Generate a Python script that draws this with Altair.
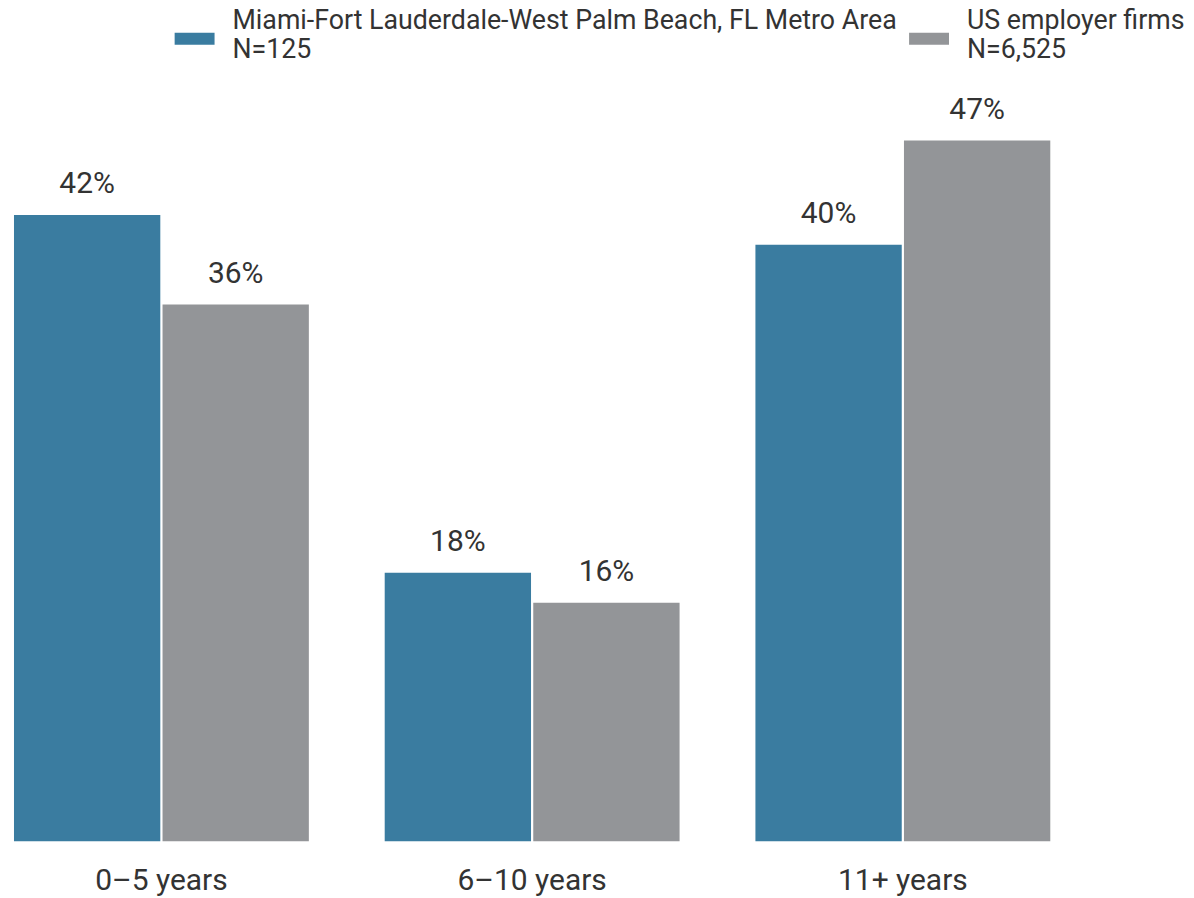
import altair as alt
import pandas as pd

categories = ["0–5 years", "6–10 years", "11+ years"]
series = ["Miami-Fort Lauderdale-West Palm Beach, FL Metro Area\nN=125", "US employer firms\nN=6,525"]
miami_values = [42, 18, 40]
us_values = [36, 16, 47]
colors = ["#3a7ca0", "#939598"]

rows = []
for c, m, u in zip(categories, miami_values, us_values):
    rows.append({"cat": c, "series": series[0], "value": m, "label": f"{m}%"})
    rows.append({"cat": c, "series": series[1], "value": u, "label": f"{u}%"})
df = pd.DataFrame(rows)

FONT = "Roboto"

x = alt.X("cat:N", sort=categories, title=None,
          scale=alt.Scale(paddingInner=0.2046, paddingOuter=0.01615),
          axis=alt.Axis(domain=False, ticks=False, labelAngle=0, labelFontSize=30,
                        labelColor="#333333", labelFont=FONT, labelPadding=24))
xoff = alt.XOffset("series:N", sort=series, scale=alt.Scale(paddingInner=0.015))
y = alt.Y("value:Q", scale=alt.Scale(domain=[0, 50]), axis=None)

bars = alt.Chart(df).mark_bar().encode(
    x=x, xOffset=xoff, y=y,
    color=alt.Color("series:N", sort=series,
                    scale=alt.Scale(domain=series, range=colors),
                    legend=alt.Legend(
                        title=None, orient="none", direction="horizontal",
                        legendX=167, legendY=-87,
                        labelExpr="split(datum.label, '\\n')",
                        labelFontSize=26.8, labelFont=FONT, labelColor="#333333",
                        labelBaseline="alphabetic",
                        symbolType="M-1,0.185L1,0.185L1,0.785L-1,0.785Z",
                        symbolSize=1600, symbolStrokeWidth=0,
                        labelOffset=18, columnPadding=12, labelLimit=800)),
)

text = alt.Chart(df).mark_text(baseline="alphabetic", dy=-22, fontSize=30,
                               font=FONT, color="#333333").encode(
    x=alt.X("cat:N", sort=categories), xOffset=alt.XOffset("series:N", sort=series),
    y="value:Q", text="label:N")

chart = alt.layer(bars, text).properties(
    width=1050.5, height=747,
    autosize=alt.AutoSizeParams(type="none"),
    padding={"left": 0, "top": 87, "right": 130, "bottom": 60},
).configure_view(stroke=None)

chart.save("out.html", embed_options={"renderer": "svg", "actions": False})
